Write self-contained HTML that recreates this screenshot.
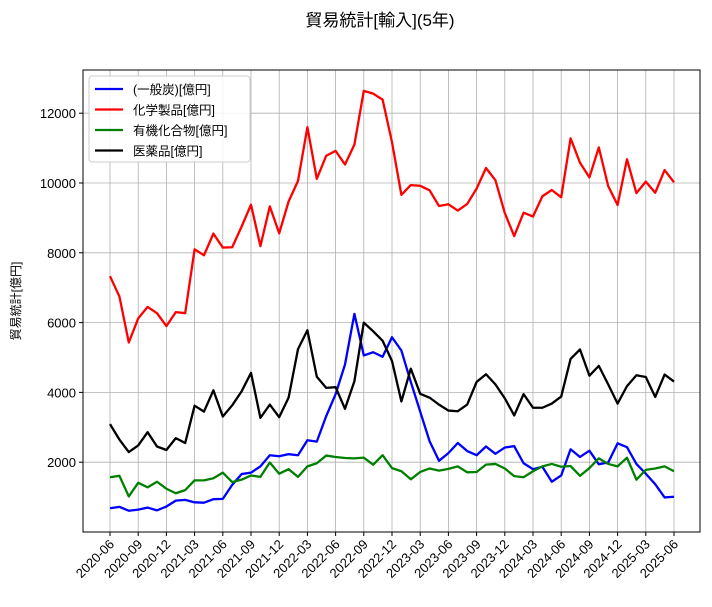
<!DOCTYPE html>
<html><head><meta charset="utf-8"><style>
body{margin:0;background:#fff;font-family:"Liberation Sans","Noto Sans CJK JP",sans-serif}
svg text{font-family:"Liberation Sans","Noto Sans CJK JP",sans-serif}
</style></head><body>
<svg id="c" width="712" height="602"></svg>
<script>
const blue=[680,720,610,640,700,620,730,900,920,850,840,940,950,1350,1660,1700,1880,2200,2170,2230,2200,2630,2590,3320,3950,4800,6250,5060,5150,5020,5580,5200,4300,3450,2600,2040,2260,2550,2320,2200,2450,2240,2420,2460,1970,1800,1870,1440,1620,2370,2150,2330,1940,1990,2540,2430,1950,1670,1370,990,1010];
const red=[7330,6750,5430,6120,6450,6270,5900,6300,6270,8100,7930,8550,8150,8160,8750,9380,8190,9330,8560,9470,10060,11600,10120,10780,10920,10530,11100,12640,12560,12390,11170,9660,9940,9920,9790,9340,9390,9210,9400,9840,10430,10080,9140,8480,9150,9040,9620,9800,9590,11280,10580,10160,11020,9910,9370,10680,9710,10040,9720,10370,10020];
const green=[1570,1610,1020,1410,1280,1440,1240,1110,1200,1480,1480,1540,1700,1430,1500,1620,1580,1990,1670,1800,1580,1880,1970,2190,2150,2120,2110,2130,1930,2200,1830,1740,1510,1720,1820,1760,1810,1880,1710,1720,1930,1950,1820,1600,1570,1740,1880,1950,1870,1890,1610,1830,2110,1950,1880,2130,1500,1780,1820,1880,1740];
const black=[3090,2650,2290,2480,2860,2450,2350,2690,2550,3620,3450,4060,3310,3630,4030,4560,3270,3650,3290,3850,5240,5780,4450,4130,4150,3530,4320,6000,5750,5480,4900,3740,4680,3960,3850,3650,3480,3460,3650,4300,4520,4230,3830,3340,3950,3560,3560,3680,3880,4960,5230,4480,4760,4230,3680,4180,4490,4440,3870,4510,4310];
const yTicks=[2000,4000,6000,8000,10000,12000];
const startYear=2020,startMonth=6;
const series=[["(一般炭)[億円]","#0000ff",blue,"series-coal"],["化学製品[億円]","#ff0000",red,"series-chemicals"],["有機化合物[億円]","#008000",green,"series-organic"],["医薬品[億円]","#000000",black,"series-pharma"]];
const L=83,R=700,T=70,B=532;
const x=i=>110+i*(674-110)/(blue.length-1);
const y=v=>B-v*(B-T)/13238;
const s=document.getElementById('c');const NS="http://www.w3.org/2000/svg";
function mk(t,a,p){const e=document.createElementNS(NS,t);for(const k in a)e.setAttribute(k,a[k]);(p||s).appendChild(e);return e;}
let e=mk('text',{x:380,y:26,'text-anchor':'middle','font-size':17});e.textContent="貿易統計[輸入](5年)";


for(let i=0;i<blue.length;i+=3){
 mk('line',{x1:x(i),x2:x(i),y1:T,y2:B,stroke:'#b0b0b0','stroke-width':0.8});
 mk('line',{x1:x(i),x2:x(i),y1:B,y2:B+4,stroke:'#000'});
 const m=startMonth-1+i,yr=startYear+Math.floor(m/12),mo=m%12+1;
 const t=mk('text',{x:x(i)+5,y:B+13,'text-anchor':'end','font-size':13,transform:`rotate(-45 ${x(i)+5} ${B+13})`});
 t.textContent=yr+"-"+String(mo).padStart(2,'0');
 
 
}
yTicks.forEach(v=>{
 mk('line',{x1:L,x2:R,y1:y(v),y2:y(v),stroke:'#b0b0b0','stroke-width':0.8});
 mk('line',{x1:L-4,x2:L,y1:y(v),y2:y(v),stroke:'#000'});
 const t=mk('text',{x:L-7,y:y(v)+5,'text-anchor':'end','font-size':13});t.textContent=v;
 
 
});
mk('rect',{x:L,y:T,width:R-L,height:B-T,fill:'none',stroke:'#000','stroke-width':1});
e=mk('text',{x:20,y:301,'text-anchor':'middle','font-size':12,transform:'rotate(-90 20 301)'});e.textContent="貿易統計[億円]";


series.forEach(([n,c,d,id])=>{
 const p=mk('polyline',{points:d.map((v,i)=>x(i)+","+y(v)).join(" "),fill:'none',stroke:c,'stroke-width':2.3,'stroke-linejoin':'round'});
 
 
});
const g=mk('g',{});


mk('rect',{x:89,y:76,width:161,height:86,fill:'#fff','fill-opacity':0.85,stroke:'#ccc',rx:3},g);
series.forEach(([n,c],k)=>{
 const yy=89+k*20.5;
 mk('line',{x1:95,x2:123,y1:yy,y2:yy,stroke:c,'stroke-width':2.3},g);
 const t=mk('text',{x:133,y:yy+5,'font-size':12.5},g);t.textContent=n;
 
 
});
</script>
</body></html>
